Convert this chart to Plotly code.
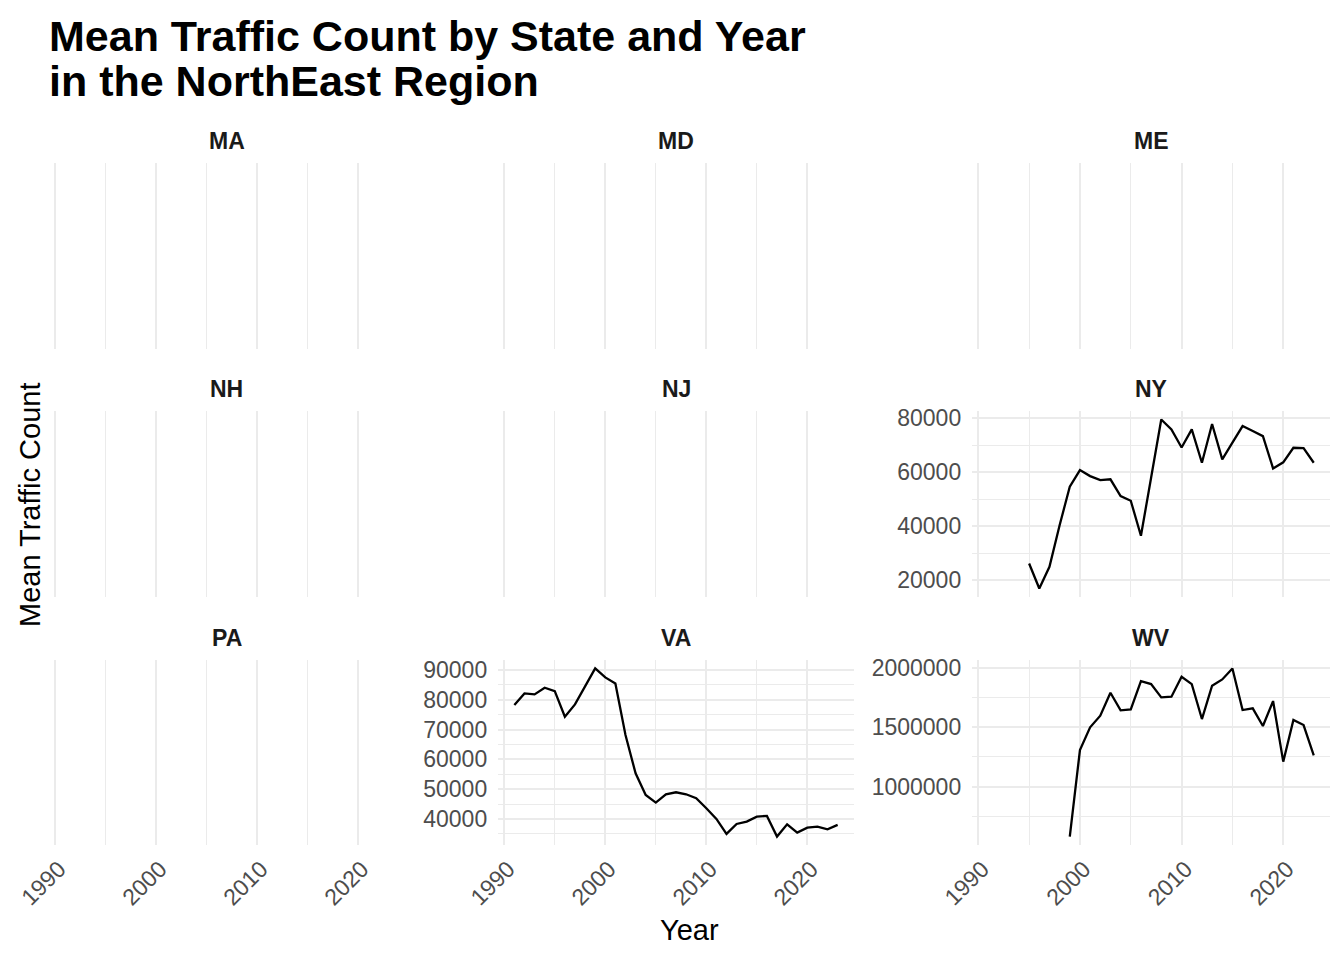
import plotly.graph_objects as go

# ---- data ----
states = ["MA", "MD", "ME", "NH", "NJ", "NY", "PA", "VA", "WV"]

ny_years = list(range(1995, 2024))
ny_values = [26200, 16900, 24950, 40400, 54640, 60830, 58600, 57100, 57400, 51180,
             49450, 36460, 58000, 79600, 75900, 69200, 75900, 63550, 77900, 64800,
             71000, 77150, 75300, 73400, 61450, 63700, 69100, 69000, 63550]

va_years = list(range(1991, 2024))
va_values = [78250, 82170, 81830, 84070, 82950, 74330, 78470, 84400, 90560, 87540,
             85520, 68180, 55310, 48060, 45480, 48280, 48950, 48280, 46940, 43580,
             40000, 34960, 38320, 39100, 40780, 41000, 34070, 38210, 35410, 37090,
             37430, 36530, 37990]

wv_years = list(range(1999, 2024))
wv_values = [579900, 1308000, 1498600, 1596600, 1789900, 1641500, 1649900, 1887900,
             1862600, 1750700, 1756300, 1924400, 1862600, 1568600, 1848700, 1901900,
             1994400, 1644300, 1658300, 1509800, 1719800, 1210000, 1560200, 1518200,
             1263300]

series = {"NY": (ny_years, ny_values), "VA": (va_years, va_values), "WV": (wv_years, wv_values)}
y_ticks = {"NY": (20000, 10000), "VA": (10000, 5000), "WV": (500000, 250000)}

x_tickvals = [1990, 2000, 2010, 2020]

# ---- layout geometry (pixels) ----
W, H = 1344, 960
cols_px = [(49, 404.5), (498.2, 853.8), (972.2, 1330)]
rows_px = [(163, 349), (411, 597), (660, 845)]

FONT = "Liberation Sans, Arial, Helvetica, sans-serif"
GRID = "#EBEBEB"
TICKC = "#4D4D4D"
TICKSIZE = 23

all_years = ny_years + va_years + wv_years
xmin, xmax = min(all_years), max(all_years)
xpad = (xmax - xmin) * 0.05
xrange = [xmin - xpad, xmax + xpad]

fig = go.Figure()
layout = dict(
    width=W, height=H,
    margin=dict(l=0, r=0, t=0, b=0),
    paper_bgcolor="white", plot_bgcolor="white",
    showlegend=False,
    font=dict(family=FONT, color="black"),
)
annotations = []

for i, st in enumerate(states):
    r, c = divmod(i, 3)
    n = i + 1
    xa = "xaxis" if n == 1 else f"xaxis{n}"
    ya = "yaxis" if n == 1 else f"yaxis{n}"
    xref = "x" if n == 1 else f"x{n}"
    yref = "y" if n == 1 else f"y{n}"
    l, rr = cols_px[c]
    t, b = rows_px[r]
    layout[xa] = dict(
        domain=[l / W, rr / W], anchor=yref, range=xrange,
        tickmode="array", tickvals=x_tickvals,
        showgrid=True, gridcolor=GRID, gridwidth=2.3,
        minor=dict(dtick=5, tick0=1990, showgrid=True, gridcolor=GRID, gridwidth=1.4),
        zeroline=False, showline=False, ticks="",
        showticklabels=(r == 2), tickangle=-45,
        ticklabelstandoff=5, ticklabelshift=4,
        tickfont=dict(size=TICKSIZE, color=TICKC, family=FONT),
        automargin=False, fixedrange=True,
    )
    ydict = dict(domain=[1 - b / H, 1 - t / H], anchor=xref, zeroline=False,
                 showline=False, ticks="", automargin=False, fixedrange=True)
    if st in series:
        yrs, vals = series[st]
        fig.add_trace(go.Scatter(x=yrs, y=vals, mode="lines", xaxis=xref, yaxis=yref,
                                 line=dict(color="black", width=2.3), hoverinfo="skip"))
        vmin, vmax = min(vals), max(vals)
        pad = (vmax - vmin) * 0.05
        dt, mdt = y_ticks[st]
        ydict.update(range=[vmin - pad, vmax + pad], dtick=dt, tick0=0, tickformat="d",
                     showgrid=True, gridcolor=GRID, gridwidth=2.3,
                     minor=dict(dtick=mdt, tick0=0, showgrid=True, gridcolor=GRID, gridwidth=1.4),
                     showticklabels=True, ticklabelstandoff=10,
                     tickfont=dict(size=TICKSIZE, color=TICKC, family=FONT))
    else:
        fig.add_trace(go.Scatter(x=[None], y=[None], mode="lines", xaxis=xref, yaxis=yref,
                                 hoverinfo="skip"))
        ydict.update(range=[0, 1], showgrid=False, showticklabels=False)
    layout[ya] = ydict
    # strip label
    annotations.append(dict(text=f"<b>{st}</b>", x=(l + rr) / 2 / W, y=1 - (t - 22) / H,
                            xref="paper", yref="paper", showarrow=False,
                            xanchor="center", yanchor="middle",
                            font=dict(size=23, color="#1A1A1A", family=FONT)))

# titles
annotations.append(dict(text="<b>Mean Traffic Count by State and Year</b>", x=47 / W, y=1 - 36 / H,
                        xref="paper", yref="paper", showarrow=False, xanchor="left", yanchor="middle",
                        font=dict(size=43, color="black", family=FONT)))
annotations.append(dict(text="<b>in the NorthEast Region</b>", x=47 / W, y=1 - 81 / H,
                        xref="paper", yref="paper", showarrow=False, xanchor="left", yanchor="middle",
                        font=dict(size=43, color="black", family=FONT)))
annotations.append(dict(text="Year", x=(49 + 1330) / 2 / W, y=1 - 930 / H,
                        xref="paper", yref="paper", showarrow=False, xanchor="center", yanchor="middle",
                        font=dict(size=29, color="black", family=FONT)))
annotations.append(dict(text="Mean Traffic Count", x=30 / W, y=1 - 505 / H, textangle=-90,
                        xref="paper", yref="paper", showarrow=False, xanchor="center", yanchor="middle",
                        font=dict(size=29, color="black", family=FONT)))
layout["annotations"] = annotations

fig.update_layout(**layout)
fig.write_html("out.html", config={"displayModeBar": False})
